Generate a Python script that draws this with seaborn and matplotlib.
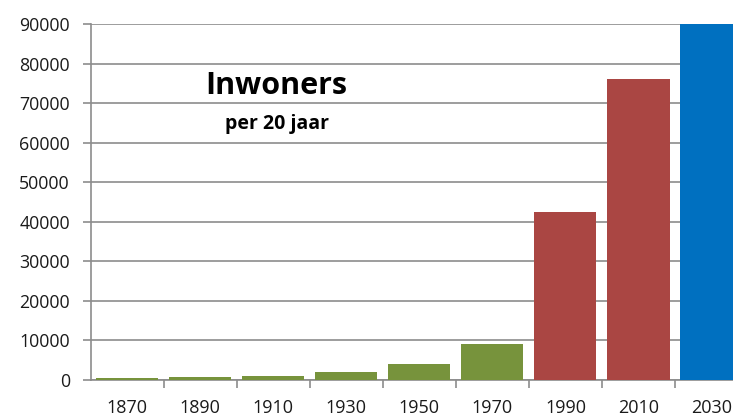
import matplotlib
matplotlib.use("Agg")
import matplotlib.pyplot as plt
import seaborn as sns
import pandas as pd
from matplotlib.ticker import FixedLocator

# Inhabitants per 20-year step
years = ["1870", "1890", "1910", "1930", "1950", "1970", "1990", "2010", "2030"]
inwoners = [600, 750, 1000, 2000, 4000, 9100, 42400, 76000, 90000]
bar_colors = ["#77933C"] * 6 + ["#AA4643"] * 2 + ["#0070C0"]

sns.set_theme(style="white")
plt.rcParams["font.family"] = ["Open Sans", "DejaVu Sans"]

df = pd.DataFrame({"jaar": years, "inwoners": inwoners})

fig = plt.figure(figsize=(7.33, 4.19), dpi=100)
ax = fig.add_axes([0.1237, 0.0931, 0.8968, 0.8496])

sns.barplot(data=df, x="jaar", y="inwoners", hue="jaar", palette=bar_colors,
            legend=False, width=0.85, saturation=1, linewidth=0, ax=ax,
            zorder=3)

ax.set_xlim(-0.5, len(years) - 0.5)
ax.set_ylim(0, 90000)
ax.set_yticks(range(0, 90001, 10000))
ax.yaxis.grid(True, color="#8c8c8c", linewidth=1.2, zorder=0)
ax.xaxis.grid(False)
ax.set_axisbelow(True)

for side in ("top", "right"):
    ax.spines[side].set_visible(False)
for side in ("left", "bottom"):
    ax.spines[side].set_color("#8c8c8c")
    ax.spines[side].set_linewidth(1.2)

ax.set_xlabel("")
ax.set_ylabel("")

# category boundaries as tick marks below the axis
ax.xaxis.set_minor_locator(FixedLocator([i + 0.5 for i in range(len(years))]))
ax.tick_params(axis="x", which="minor", length=6, width=1.2, color="#8c8c8c",
               direction="out", bottom=True)
ax.tick_params(axis="x", which="major", length=0, pad=14, labelsize=13,
               labelcolor="#1a1a1a")
ax.tick_params(axis="y", which="major", length=6, width=1.2, color="#8c8c8c",
               direction="out", left=True, pad=9, labelsize=12.8,
               labelcolor="#1a1a1a")

ax.text(0.283, 0.803, "Inwoners", transform=ax.transAxes, ha="center",
        va="baseline", fontsize=22, fontweight="bold", color="#000000")
ax.text(0.283, 0.704, "per 20 jaar", transform=ax.transAxes, ha="center",
        va="baseline", fontsize=14, fontweight="bold", color="#000000")

fig.savefig("out.png", dpi=100)
